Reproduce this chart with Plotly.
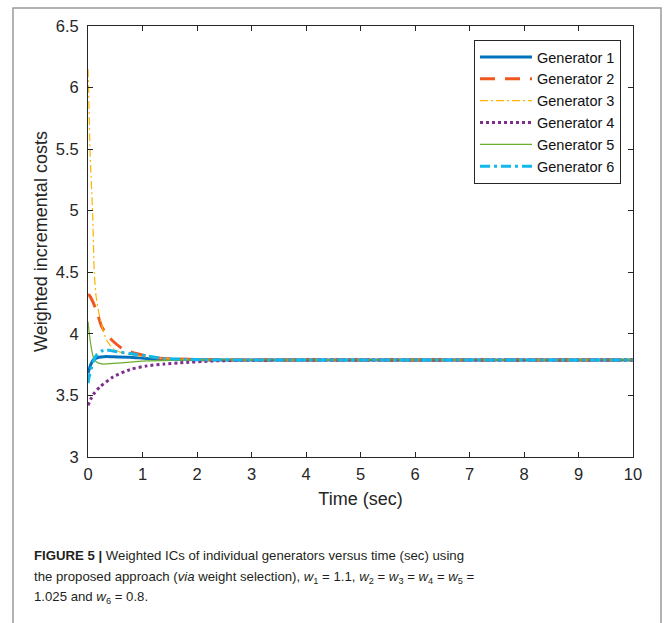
import plotly.graph_objects as go

# ---- data ----
t1 = [0, 0.05, 0.1, 0.2, 0.3, 0.46, 0.77, 1.08, 1.5, 2.0, 3.0, 10.0]
v1 = [3.68, 3.75, 3.79, 3.81, 3.815, 3.814, 3.81, 3.80, 3.793, 3.79, 3.788, 3.788]

t2 = [0, 0.03, 0.1, 0.19, 0.25, 0.35, 0.46, 0.6, 0.77, 1.08, 1.38, 1.69, 2.2, 3.0, 10.0]
v2 = [4.32, 4.31, 4.25, 4.14, 4.06, 3.99, 3.94, 3.89, 3.855, 3.82, 3.80, 3.795, 3.79, 3.788, 3.788]

t3 = [0, 0.01, 0.04, 0.085, 0.115, 0.15, 0.2, 0.27, 0.34, 0.46, 0.6, 0.8, 1.1, 1.5, 2.0, 3.0, 10.0]
v3 = [6.15, 6.0, 5.45, 4.98, 4.5, 4.3, 4.17, 4.04, 3.95, 3.88, 3.85, 3.83, 3.81, 3.797, 3.79, 3.788, 3.788]

t4 = [0, 0.05, 0.1, 0.22, 0.46, 0.77, 1.08, 1.4, 1.69, 2.3, 2.9, 4.0, 10.0]
v4 = [3.42, 3.47, 3.51, 3.57, 3.65, 3.71, 3.74, 3.755, 3.765, 3.78, 3.785, 3.788, 3.788]

t5 = [0, 0.03, 0.067, 0.1, 0.16, 0.28, 0.46, 0.77, 1.08, 1.5, 2.0, 3.0, 10.0]
v5 = [4.10, 3.98, 3.87, 3.81, 3.77, 3.755, 3.76, 3.77, 3.78, 3.785, 3.788, 3.788, 3.788]

t6 = [0, 0.03, 0.067, 0.1, 0.16, 0.25, 0.34, 0.46, 0.77, 1.08, 1.38, 1.69, 2.2, 3.0, 10.0]
v6 = [3.60, 3.67, 3.73, 3.78, 3.83, 3.86, 3.87, 3.86, 3.84, 3.82, 3.80, 3.795, 3.79, 3.788, 3.788]

series_names = ["Generator 1", "Generator 2", "Generator 3", "Generator 4", "Generator 5", "Generator 6"]

x_tickvals = [0, 1, 2, 3, 4, 5, 6, 7, 8, 9, 10]
y_tickvals = [3, 3.5, 4, 4.5, 5, 5.5, 6, 6.5]
y_ticktext = ["3", "3.5", "4", "4.5", "5", "5.5", "6", "6.5"]

caption_lines = [
    "<b>FIGURE 5 |</b> Weighted ICs of individual generators versus time (sec) using",
    "the proposed approach (<i>via</i> weight selection), <i>w</i><sub>1</sub> = 1.1, "
    "<i>w</i><sub>2</sub> = <i>w</i><sub>3</sub> = <i>w</i><sub>4</sub> = <i>w</i><sub>5</sub> =",
    "1.025 and <i>w</i><sub>6</sub> = 0.8.",
]

# ---- styles ----
styles = [
    dict(color="#0072BD", width=3, dash="solid"),
    dict(color="#F0561E", width=3, dash="15px,10px"),
    dict(color="#FFB300", width=1.2, dash="8px,3px,2px,3px"),
    dict(color="#7E2F8E", width=3, dash="3px,3px"),
    dict(color="#6AAE2E", width=1.2, dash="solid"),
    dict(color="#12B8EA", width=3, dash="10px,4px,3px,4px"),
]

FONT = "Liberation Sans, Arial, Helvetica, sans-serif"
CAP_FONT = "Liberation Sans, Arial, sans-serif"
AX = "#262626"

fig = go.Figure()
for name, tx, vy, st in zip(series_names, [t1, t2, t3, t4, t5, t6], [v1, v2, v3, v4, v5, v6], styles):
    fig.add_trace(go.Scatter(x=tx, y=vy, mode="lines", name=name,
                             line=dict(shape="spline", smoothing=0.6, **st)))

W, H = 666, 623
L, R, T, B = 88, 33, 26, 166
pw, ph = W - L - R, H - T - B

def px_x(x):
    return (x - L) / pw

def px_y(y):
    return (H - B - y) / ph

fig.update_layout(
    width=W, height=H,
    margin=dict(l=L, r=R, t=T, b=B),
    paper_bgcolor="white", plot_bgcolor="white",
    font=dict(family=FONT, color=AX),
    showlegend=True,
    legend=dict(
        x=px_x(474), y=px_y(40), xanchor="left", yanchor="top",
        bgcolor="white", bordercolor=AX, borderwidth=1,
        font=dict(size=14.5, family=FONT, color="#111"),
        tracegroupgap=0, itemwidth=52,
    ),
    xaxis=dict(
        range=[0, 10], tickvals=x_tickvals, ticks="inside", ticklen=5, tickcolor=AX,
        showline=True, linecolor=AX, linewidth=1, mirror="ticks", showgrid=False, zeroline=False,
        tickfont=dict(size=16.5, color=AX), ticklabelstandoff=2,
        title=dict(text="Time (sec)", font=dict(size=18, color=AX), standoff=10),
    ),
    yaxis=dict(
        range=[3, 6.5], tickvals=y_tickvals, ticktext=y_ticktext, ticks="inside", ticklen=5, tickcolor=AX,
        showline=True, linecolor=AX, linewidth=1, mirror="ticks", showgrid=False, zeroline=False,
        tickfont=dict(size=16.5, color=AX), ticklabelstandoff=5,
        title=dict(text="Weighted incremental costs", font=dict(size=18, color=AX), standoff=3),
    ),
    shapes=[dict(
        type="path", xref="paper", yref="paper",
        path=f"M {px_x(13)},{px_y(700)} L {px_x(13)},{px_y(8)} L {px_x(661)},{px_y(8)} L {px_x(661)},{px_y(700)}",
        line=dict(color="#9a9a9a", width=1.5),
    )],
)

cap_y = [555, 577, 597]
for txt, yy in zip(caption_lines, cap_y):
    fig.add_annotation(
        text=txt, xref="paper", yref="paper", x=px_x(32), y=px_y(yy),
        xanchor="left", yanchor="middle", showarrow=False,
        font=dict(size=13.2, family=CAP_FONT, color="#231f20"), align="left",
    )

fig.write_html(
    "out.html",
    config={"displayModeBar": False},
    post_script="document.body.style.margin='0';document.body.style.overflow='hidden';",
)
